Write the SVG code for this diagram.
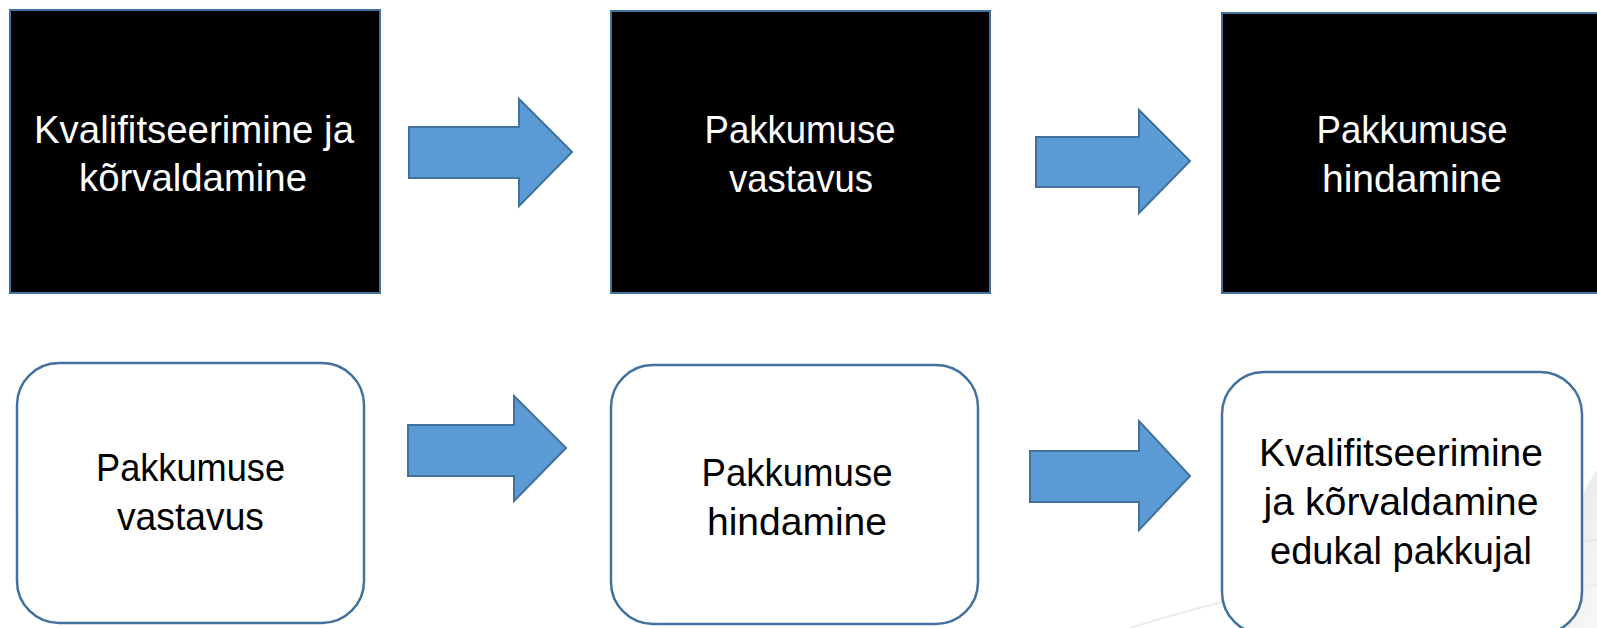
<svg xmlns="http://www.w3.org/2000/svg" width="1597" height="628" viewBox="0 0 1597 628">
<defs>
<linearGradient id="swoosh" x1="0" y1="0" x2="1" y2="1">
<stop offset="0" stop-color="#d8d8d8" stop-opacity="0.9"/>
<stop offset="1" stop-color="#eeeeee" stop-opacity="0.4"/>
</linearGradient>
</defs>
<style>
.dark{fill:#000000;stroke:#41719C;stroke-width:2}
.light{fill:#ffffff;stroke:#41719C;stroke-width:2.5}
.arrow{fill:#5B9BD5;stroke:#41719C;stroke-width:2;stroke-linejoin:miter}
.t{font-family:"Liberation Sans",Arial,sans-serif;font-size:39px;text-anchor:middle}
.w{fill:#ffffff}
.b{fill:#000000}
</style>
<rect width="1597" height="628" fill="#ffffff"/>
<g id="background">
<path d="M1597,470 C1575,500 1560,560 1552,628 L1597,628 Z" fill="url(#swoosh)"/>
<path d="M1130,628 C1250,590 1400,560 1597,540" fill="none" stroke="#e4e4e4" stroke-width="2" opacity="0.7"/>
<path d="M1300,628 C1400,600 1500,590 1597,585" fill="none" stroke="#e8e8e8" stroke-width="2" opacity="0.7"/>
</g>
<g id="connectors">
<polygon class="arrow" points="409,127 519,127 519,99 572,152 519,206 519,178 409,178"/>
<polygon class="arrow" points="1036,137 1139,137 1139,110 1190,161 1139,213 1139,187 1036,187"/>
<polygon class="arrow" points="408,425 514,425 514,396 566,448 514,501 514,476 408,476"/>
<polygon class="arrow" points="1030,451 1139,451 1139,421 1190,476 1139,530 1139,502 1030,502"/>
</g>
<g id="n1">
<rect class="dark" x="10" y="10" width="370" height="283"/>
<text class="t w" x="194" y="143" textLength="320" lengthAdjust="spacingAndGlyphs">Kvalifitseerimine ja</text>
<text class="t w" x="193" y="191" textLength="228" lengthAdjust="spacingAndGlyphs">kõrvaldamine</text>
</g>
<g id="n2">
<rect class="dark" x="611" y="11" width="379" height="282"/>
<text class="t w" x="800" y="143" textLength="191" lengthAdjust="spacingAndGlyphs">Pakkumuse</text>
<text class="t w" x="801" y="192" textLength="144" lengthAdjust="spacingAndGlyphs">vastavus</text>
</g>
<g id="n3">
<rect class="dark" x="1222" y="13" width="400" height="280"/>
<text class="t w" x="1412" y="143" textLength="191" lengthAdjust="spacingAndGlyphs">Pakkumuse</text>
<text class="t w" x="1412" y="192" textLength="180" lengthAdjust="spacingAndGlyphs">hindamine</text>
</g>
<g id="n4">
<rect class="light" x="17" y="363" width="347" height="260" rx="42" ry="42"/>
<text class="t b" x="190.5" y="481" textLength="189" lengthAdjust="spacingAndGlyphs">Pakkumuse</text>
<text class="t b" x="190.5" y="530" textLength="147" lengthAdjust="spacingAndGlyphs">vastavus</text>
</g>
<g id="n5">
<rect class="light" x="611" y="365" width="367" height="259" rx="42" ry="42"/>
<text class="t b" x="797" y="486" textLength="191" lengthAdjust="spacingAndGlyphs">Pakkumuse</text>
<text class="t b" x="797" y="535" textLength="180" lengthAdjust="spacingAndGlyphs">hindamine</text>
</g>
<g id="n6">
<rect class="light" x="1222" y="372" width="360" height="262" rx="42" ry="42"/>
<text class="t b" x="1401" y="466" textLength="284" lengthAdjust="spacingAndGlyphs">Kvalifitseerimine</text>
<text class="t b" x="1401" y="515" textLength="275" lengthAdjust="spacingAndGlyphs">ja kõrvaldamine</text>
<text class="t b" x="1401" y="564" textLength="262" lengthAdjust="spacingAndGlyphs">edukal pakkujal</text>
</g>
</svg>
